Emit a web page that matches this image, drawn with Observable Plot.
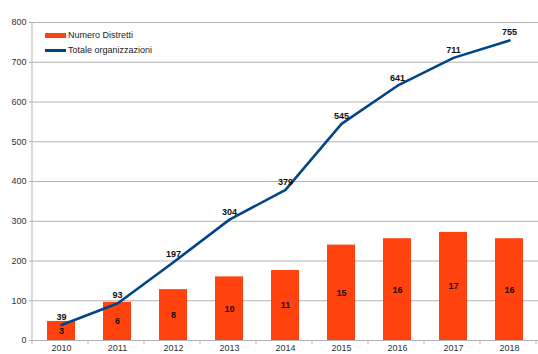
<!DOCTYPE html>
<html><head><meta charset="utf-8">
<script src="https://cdn.jsdelivr.net/npm/d3@7"></script>
<script src="https://cdn.jsdelivr.net/npm/@observablehq/plot@0.6"></script>
<style>
body{margin:0;background:#fff;font-family:"Liberation Sans",Arial,sans-serif;}
#wrap{position:relative;width:538px;height:354px;}
#legend{position:absolute;left:45px;top:28px;font-size:9px;color:#222;line-height:15px;}
#legend .sw{display:inline-block;width:21px;vertical-align:middle;margin-right:2px;}
</style></head>
<body><div id="wrap"><div id="legend">
<div><span class="sw" style="height:5px;background:#ff420e"></span>Numero Distretti</div>
<div><span class="sw" style="height:3px;background:#004586"></span>Totale organizzazioni</div>
</div></div>
<script>
const years = ["2010","2011","2012","2013","2014","2015","2016","2017","2018"];
const distretti = [3,6,8,10,11,15,16,17,16];
const organizzazioni = [39,93,197,304,379,545,641,711,755];
const yTicks = [0,100,200,300,400,500,600,700,800];
// secondary (hidden) axis for bars: 0–50 mapped onto primary 0–800
const primaryMax = 800, secondaryMax = 50;
const k = primaryMax / secondaryMax;

const data = years.map((y,i)=>({year:y, d:distretti[i], o:organizzazioni[i]}));

const chart = Plot.plot({
  width:538, height:354,
  marginLeft:32, marginRight:0, marginTop:22, marginBottom:14,
  style:{fontFamily:"Liberation Sans, Arial, sans-serif", fontSize:"9px", color:"#333", background:"#fff"},
  x:{domain:years, paddingInner:0.5, paddingOuter:0.25, label:null, tickSize:0, tickPadding:4},
  y:{domain:[0,800], ticks:yTicks, label:null, tickSize:3, tickPadding:3},
  marks:[
    Plot.gridY(yTicks,{stroke:"#b3b3b3", strokeOpacity:1}),
    Plot.barY(data,{x:"year", y:d=>d.d*k, fill:"#ff420e"}),
    Plot.text(data,{x:"year", y:d=>d.d*k/2, text:"d", fontWeight:"bold", fill:"#111", fontSize:9}),
    Plot.line(data,{x:"year", y:"o", stroke:"#004586", strokeWidth:2.6}),
    Plot.text(data,{x:"year", y:"o", text:"o", dy:-8, fontWeight:"bold", fill:"#111", fontSize:9}),
    Plot.ruleY([0],{stroke:"#b3b3b3"})
  ]
});
document.getElementById("wrap").prepend(chart);
// left axis line and band-boundary ticks
const xs = chart.scale("x");
const svg = d3.select(chart);
const [x0,x1] = xs.range;
svg.append("line").attr("x1",32).attr("x2",32).attr("y1",22).attr("y2",340).attr("stroke","#b3b3b3");
for(let i=0;i<=years.length;i++){
  const x = x0 + i*xs.step;
  svg.append("line").attr("x1",x).attr("x2",x).attr("y1",340).attr("y2",344).attr("stroke","#b3b3b3");
}
svg.selectAll("[aria-label='y-axis tick']").attr("stroke","#b3b3b3");
</script></body></html>
